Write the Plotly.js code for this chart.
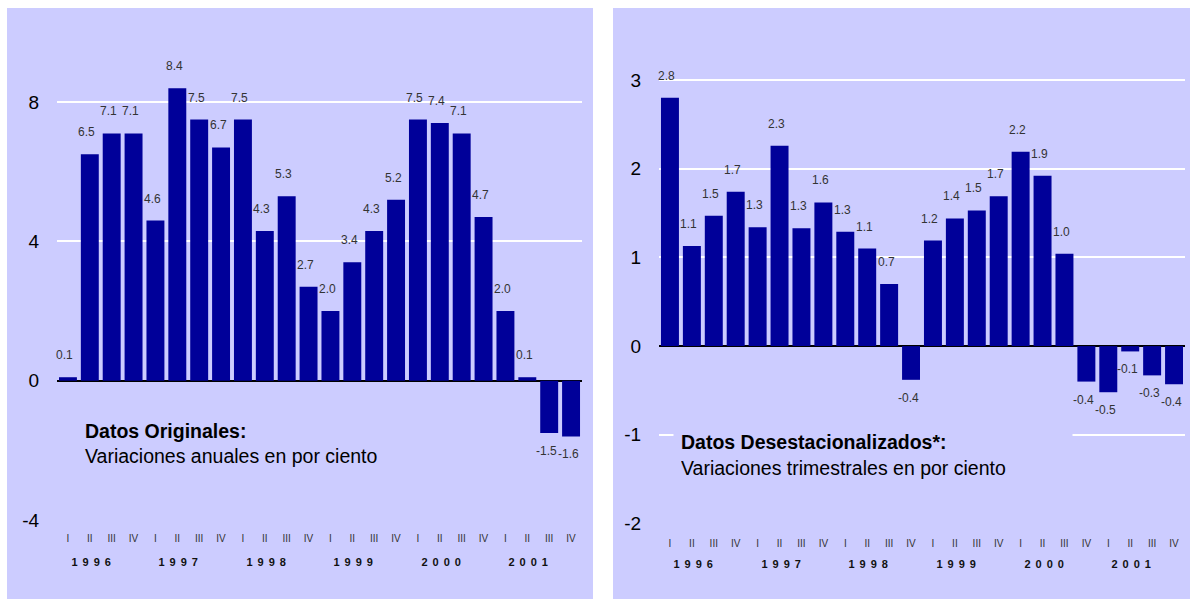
<!DOCTYPE html>
<html>
<head>
<meta charset="utf-8">
<script src="https://cdn.plot.ly/plotly-3.0.1.min.js"></script>
<style>
  html, body { margin: 0; padding: 0; background: #ffffff; }
  #chart { width: 1190px; height: 599px; }
</style>
</head>
<body>
<div id="chart"></div>
<script>
// ---- Data ----
const years = ['1996', '1997', '1998', '1999', '2000', '2001'];
const quarters = ['I', 'II', 'III', 'IV'];
const categories = [
  '1996-I','1996-II','1996-III','1996-IV',
  '1997-I','1997-II','1997-III','1997-IV',
  '1998-I','1998-II','1998-III','1998-IV',
  '1999-I','1999-II','1999-III','1999-IV',
  '2000-I','2000-II','2000-III','2000-IV',
  '2001-I','2001-II','2001-III','2001-IV'
];
const quarterLabels = [
  'I','II','III','IV','I','II','III','IV','I','II','III','IV',
  'I','II','III','IV','I','II','III','IV','I','II','III','IV'
];
// Datos Originales: variaciones anuales en por ciento
const originales = [0.1, 6.5, 7.1, 7.1, 4.6, 8.4, 7.5, 6.7, 7.5, 4.3, 5.3, 2.7,
                    2.0, 3.4, 4.3, 5.2, 7.5, 7.4, 7.1, 4.7, 2.0, 0.1, -1.5, -1.6];
// Datos Desestacionalizados: variaciones trimestrales en por ciento
const desestacionalizados = [2.80, 1.13, 1.47, 1.74, 1.34, 2.26, 1.33, 1.62, 1.29, 1.10, 0.70, -0.38,
                             1.19, 1.44, 1.53, 1.69, 2.19, 1.92, 1.04, -0.40, -0.52, -0.06, -0.33, -0.43];
const leftTicks = [-4, 0, 4, 8];
const rightTicks = [-2, -1, 0, 1, 2, 3];
const leftTitle = 'Datos Originales:';
const leftSubtitle = 'Variaciones anuales en por ciento';
const rightTitle = 'Datos Desestacionalizados*:';
const rightSubtitle = 'Variaciones trimestrales en por ciento';

// ---- Style ----
const W = 1190, H = 599;
const FONT = 'Liberation Sans, Arial, Helvetica, sans-serif';
const BG = '#ccccff';
const BAR = '#000099';
const px = v => v / W;
const py = v => 1 - v / H;

function barTrace(vals, xa, ya) {
  return {
    type: 'bar', x: categories, y: vals, xaxis: xa, yaxis: ya,
    marker: { color: BAR, line: { width: 0 } },
    hoverinfo: 'skip', showlegend: false
  };
}

function valueLabels(vals, xref, yref) {
  return vals.map((v, i) => ({
    xref: xref, yref: yref, x: categories[i], y: v,
    text: v.toFixed(1), showarrow: false,
    xanchor: 'center', yanchor: 'middle',
    xshift: -3, yshift: v >= 0 ? 22 : -18,
    font: { family: FONT, size: 12, color: '#333333' }
  }));
}

function yearLabels(xref, ypix) {
  return years.map((y, k) => ({
    xref: xref, yref: 'paper', x: 4 * k + 1.5, y: py(ypix),
    text: y, showarrow: false, xanchor: 'center', yanchor: 'middle',
    font: { family: FONT, size: 11, color: '#111111', weight: 'bold' }
  }));
}

function xAxis(domain, anchor, ticklen) {
  return {
    domain: domain, anchor: anchor, type: 'category',
    range: [-0.5, categories.length - 0.5],
    tickmode: 'array', tickvals: categories, ticktext: quarterLabels,
    showgrid: false, zeroline: false, showline: false,
    ticks: 'outside', ticklen: ticklen, tickcolor: 'rgba(0,0,0,0)',
    tickfont: { family: FONT, size: 10, color: '#333333' },
    fixedrange: true
  };
}

function yAxis(domain, anchor, range, tickvals) {
  return {
    domain: domain, anchor: anchor, range: range,
    tickmode: 'array', tickvals: tickvals, ticktext: tickvals.map(String),
    showgrid: true, gridcolor: '#ffffff', gridwidth: 2,
    zeroline: true, zerolinecolor: '#000000', zerolinewidth: 2,
    showline: false,
    ticks: 'outside', ticklen: 13, tickcolor: 'rgba(0,0,0,0)',
    tickfont: { family: FONT, size: 19, color: '#000000' },
    fixedrange: true
  };
}

const data = [
  barTrace(originales, 'x', 'y'),
  barTrace(desestacionalizados, 'x2', 'y2')
];

const annotations = []
  .concat(valueLabels(originales, 'x', 'y'))
  .concat(valueLabels(desestacionalizados, 'x2', 'y2'))
  .concat(yearLabels('x', 562))
  .concat(yearLabels('x2', 564))
  .concat([
    {
      xref: 'paper', yref: 'paper', x: px(83), y: py(443),
      xanchor: 'left', yanchor: 'middle', align: 'left', showarrow: false,
      text: '<b>' + leftTitle + '</b><br>' + leftSubtitle,
      font: { family: FONT, size: 19.5, color: '#000000' }
    },
    {
      xref: 'paper', yref: 'paper', x: px(673), y: py(455),
      xanchor: 'left', yanchor: 'middle', align: 'left', showarrow: false,
      width: 384, height: 54, borderpad: 7, bgcolor: BG,
      text: '<b>' + rightTitle + '</b><br>' + rightSubtitle,
      font: { family: FONT, size: 19.5, color: '#000000' }
    }
  ]);

const layout = {
  width: W, height: H,
  margin: { l: 0, r: 0, t: 0, b: 0 },
  paper_bgcolor: '#ffffff',
  plot_bgcolor: 'rgba(0,0,0,0)',
  bargap: 0.18,
  showlegend: false,
  font: { family: FONT },
  xaxis: xAxis([px(57), px(582)], 'y', 9),
  yaxis: yAxis([py(520), py(32.5)], 'x', [-4, 10], leftTicks),
  xaxis2: xAxis([px(659), px(1185)], 'y2', 10),
  yaxis2: yAxis([py(523.5), py(26.8)], 'x2', [-2, 3.6], rightTicks),
  shapes: [
    { type: 'rect', xref: 'paper', yref: 'paper', layer: 'below',
      x0: px(7), x1: px(593), y0: 0, y1: py(8),
      fillcolor: BG, line: { width: 0 } },
    { type: 'rect', xref: 'paper', yref: 'paper', layer: 'below',
      x0: px(613), x1: 1, y0: 0, y1: py(8),
      fillcolor: BG, line: { width: 0 } }
  ],
  annotations: annotations
};

Plotly.newPlot('chart', data, layout, { displayModeBar: false, staticPlot: true }).then(() => {
  // spaced-out year labels as in the original
  document.querySelectorAll('.annotation-text').forEach(t => {
    if (/^\d{4}$/.test(t.textContent)) {
      const sp = 5;
      t.style.letterSpacing = sp + 'px';
      const tr = t.getAttribute('transform') || '';
      t.setAttribute('transform', tr + ' translate(' + (-(sp * 3) / 2) + ',0)');
    }
  });
});
</script>
</body>
</html>
